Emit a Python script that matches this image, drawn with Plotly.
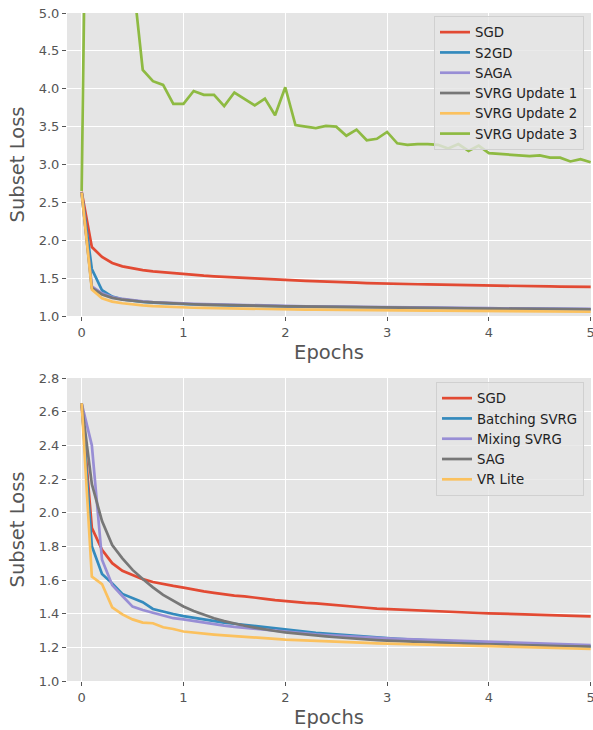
import plotly.graph_objects as go

epochs = [0.0, 0.1, 0.2, 0.3, 0.4, 0.5, 0.6, 0.7, 0.8, 0.9,
          1.0, 1.1, 1.2, 1.3, 1.4, 1.5, 1.6, 1.7, 1.8, 1.9,
          2.0, 2.1, 2.2, 2.3, 2.4, 2.5, 2.6, 2.7, 2.8, 2.9,
          3.0, 3.1, 3.2, 3.3, 3.4, 3.5, 3.6, 3.7, 3.8, 3.9,
          4.0, 4.1, 4.2, 4.3, 4.4, 4.5, 4.6, 4.7, 4.8, 4.9, 5.0]

# ---- top panel ----
sgd = [2.64, 1.91, 1.78, 1.70, 1.655, 1.628, 1.605, 1.588, 1.575, 1.565,
       1.555, 1.542, 1.532, 1.524, 1.514, 1.507, 1.503, 1.497, 1.488, 1.480,
       1.474, 1.469, 1.464, 1.461, 1.455, 1.450, 1.446, 1.440, 1.435, 1.430,
       1.427, 1.424, 1.421, 1.419, 1.417, 1.414, 1.411, 1.408, 1.406, 1.404,
       1.402, 1.400, 1.398, 1.396, 1.394, 1.392, 1.390, 1.388, 1.387, 1.386, 1.384]
s2gd = [2.63, 1.62, 1.34, 1.255, 1.22, 1.20, 1.186, 1.176, 1.168, 1.162,
        1.157, 1.152, 1.148, 1.144, 1.141, 1.138, 1.135, 1.132, 1.130, 1.128,
        1.126, 1.124, 1.122, 1.120, 1.118, 1.117, 1.115, 1.114, 1.112, 1.111,
        1.110, 1.108, 1.107, 1.106, 1.105, 1.104, 1.103, 1.102, 1.101, 1.100,
        1.099, 1.098, 1.097, 1.096, 1.095, 1.094, 1.093, 1.092, 1.091, 1.090, 1.089]
saga = [2.63, 1.39, 1.30, 1.25, 1.225, 1.207, 1.195, 1.185, 1.177, 1.171,
        1.166, 1.161, 1.157, 1.153, 1.149, 1.146, 1.143, 1.140, 1.137, 1.135,
        1.133, 1.131, 1.129, 1.127, 1.125, 1.123, 1.121, 1.119, 1.118, 1.116,
        1.115, 1.113, 1.112, 1.111, 1.109, 1.108, 1.107, 1.106, 1.105, 1.104,
        1.103, 1.102, 1.101, 1.100, 1.099, 1.098, 1.097, 1.096, 1.095, 1.094, 1.093]
svrg1 = [2.63, 1.37, 1.285, 1.24, 1.215, 1.199, 1.188, 1.179, 1.171, 1.165,
         1.160, 1.155, 1.151, 1.147, 1.144, 1.141, 1.138, 1.135, 1.132, 1.130,
         1.128, 1.126, 1.124, 1.122, 1.120, 1.118, 1.116, 1.115, 1.113, 1.112,
         1.110, 1.109, 1.107, 1.106, 1.105, 1.103, 1.102, 1.101, 1.100, 1.099,
         1.098, 1.097, 1.096, 1.095, 1.094, 1.093, 1.092, 1.091, 1.090, 1.089, 1.088]
svrg2 = [2.63, 1.35, 1.235, 1.19, 1.168, 1.152, 1.140, 1.131, 1.124, 1.118,
         1.113, 1.109, 1.106, 1.103, 1.100, 1.098, 1.096, 1.094, 1.092, 1.090,
         1.088, 1.086, 1.085, 1.084, 1.082, 1.081, 1.080, 1.079, 1.078, 1.077,
         1.076, 1.075, 1.074, 1.073, 1.072, 1.071, 1.070, 1.069, 1.068, 1.067,
         1.066, 1.065, 1.064, 1.063, 1.062, 1.061, 1.060, 1.059, 1.058, 1.057, 1.056]
svrg3 = [2.65, 12.9, 10.5, 8.5, 7.0, 5.5, 4.25, 4.10, 4.05, 3.80,
         3.80, 3.97, 3.92, 3.92, 3.77, 3.95, 3.87, 3.78, 3.87, 3.65,
         4.02, 3.52, 3.50, 3.48, 3.51, 3.50, 3.38, 3.46, 3.32, 3.34,
         3.43, 3.28, 3.26, 3.27, 3.27, 3.26, 3.21, 3.27, 3.18, 3.25,
         3.15, 3.14, 3.13, 3.12, 3.11, 3.12, 3.09, 3.09, 3.04, 3.07, 3.03]

# ---- bottom panel ----
batching_svrg = [2.65, 1.80, 1.636, 1.58, 1.517, 1.491, 1.468, 1.428, 1.412, 1.398,
                 1.385, 1.375, 1.365, 1.356, 1.347, 1.340, 1.333, 1.326, 1.319, 1.311,
                 1.303, 1.297, 1.291, 1.286, 1.281, 1.276, 1.271, 1.267, 1.263, 1.259,
                 1.255, 1.251, 1.247, 1.244, 1.241, 1.238, 1.235, 1.232, 1.229, 1.226,
                 1.224, 1.222, 1.220, 1.218, 1.216, 1.214, 1.212, 1.210, 1.208, 1.206, 1.204]
mixing_svrg = [2.65, 2.40, 1.72, 1.57, 1.505, 1.442, 1.422, 1.406, 1.388, 1.373,
               1.366, 1.356, 1.346, 1.337, 1.329, 1.322, 1.316, 1.309, 1.303, 1.297,
               1.291, 1.286, 1.281, 1.277, 1.273, 1.269, 1.265, 1.262, 1.259, 1.256,
               1.253, 1.250, 1.248, 1.246, 1.244, 1.242, 1.240, 1.238, 1.236, 1.234,
               1.232, 1.230, 1.228, 1.226, 1.224, 1.222, 1.220, 1.218, 1.216, 1.215, 1.214]
sag = [2.65, 2.17, 1.95, 1.808, 1.729, 1.660, 1.606, 1.556, 1.512, 1.475,
       1.443, 1.416, 1.393, 1.373, 1.356, 1.341, 1.328, 1.317, 1.306, 1.297,
       1.289, 1.282, 1.276, 1.270, 1.265, 1.260, 1.255, 1.251, 1.247, 1.243,
       1.240, 1.237, 1.234, 1.231, 1.229, 1.227, 1.225, 1.223, 1.221, 1.219,
       1.218, 1.216, 1.215, 1.213, 1.212, 1.211, 1.209, 1.208, 1.207, 1.206, 1.205]
vr_lite = [2.65, 1.62, 1.576, 1.438, 1.396, 1.366, 1.347, 1.343, 1.319, 1.309,
           1.294, 1.287, 1.281, 1.276, 1.271, 1.266, 1.262, 1.258, 1.254, 1.250,
           1.246, 1.243, 1.240, 1.237, 1.235, 1.232, 1.230, 1.228, 1.226, 1.224,
           1.222, 1.220, 1.218, 1.217, 1.215, 1.214, 1.212, 1.211, 1.209, 1.208,
           1.207, 1.205, 1.204, 1.203, 1.201, 1.200, 1.198, 1.196, 1.194, 1.192, 1.190]

top_names = ["SGD", "S2GD", "SAGA", "SVRG Update 1", "SVRG Update 2", "SVRG Update 3"]
top_series = [sgd, s2gd, saga, svrg1, svrg2, svrg3]
bottom_names = ["SGD", "Batching SVRG", "Mixing SVRG", "SAG", "VR Lite"]
bottom_series = [sgd, batching_svrg, mixing_svrg, sag, vr_lite]

colors = ["#E24A33", "#348ABD", "#988ED5", "#777777", "#FBC15E", "#8EBA42"]

FONT = "DejaVu Sans"
GREY_TXT = "#555555"
BG = "#E5E5E5"

fig = go.Figure()
for name, ys, c in zip(top_names, top_series, colors):
    fig.add_trace(go.Scatter(x=epochs, y=ys, mode="lines", name=name,
                             line=dict(color=c, width=2.7),
                             xaxis="x", yaxis="y", legend="legend"))
for name, ys, c in zip(bottom_names, bottom_series, colors):
    fig.add_trace(go.Scatter(x=epochs, y=ys, mode="lines", name=name,
                             line=dict(color=c, width=2.7),
                             xaxis="x2", yaxis="y2", legend="legend2"))

W, H = 593, 730
ml, mr, mt, mb = 67, 2, 13, 49
ph = H - mt - mb
top_dom = [1 - 303 / ph, 1]
bot_dom = [0, 303 / ph]

axis_common = dict(
    showgrid=True, gridcolor="white", gridwidth=1,
    zeroline=False, showline=False,
    ticks="outside", ticklen=4, tickwidth=1, tickcolor=GREY_TXT,
    tickfont=dict(family=FONT, size=13, color=GREY_TXT),
    ticklabeloverflow="allow", automargin=False,
)
title_font = dict(family=FONT, size=19.5, color=GREY_TXT)
legend_font = dict(family=FONT, size=13.3, color="#222222")

xrange = [-0.144, 5.003]
fig.update_layout(
    width=W, height=H,
    margin=dict(l=ml, r=mr, t=mt, b=mb, autoexpand=False),
    paper_bgcolor="white", plot_bgcolor=BG,
    font=dict(family=FONT, color=GREY_TXT),
    xaxis=dict(domain=[0, 1], anchor="y", range=xrange, tickvals=[0, 1, 2, 3, 4, 5],
               title=dict(text="Epochs", font=title_font, standoff=6),
               **axis_common),
    yaxis=dict(domain=top_dom, anchor="x", range=[1.0, 5.0], dtick=0.5, tickformat=".1f",
               title=dict(text="Subset Loss", font=title_font, standoff=8),
               **axis_common),
    xaxis2=dict(domain=[0, 1], anchor="y2", range=xrange, tickvals=[0, 1, 2, 3, 4, 5],
                title=dict(text="Epochs", font=title_font, standoff=6),
                **axis_common),
    yaxis2=dict(domain=bot_dom, anchor="x2", range=[1.0, 2.8], dtick=0.2, tickformat=".1f",
                title=dict(text="Subset Loss", font=title_font, standoff=8),
                **axis_common),
    legend=dict(x=(584 - ml) / (W - ml - mr), xanchor="right",
                y=(H - mb - 16) / ph, yanchor="top",
                bgcolor="rgba(229,229,229,0.8)", bordercolor="#D0D0D0", borderwidth=1,
                font=legend_font),
    legend2=dict(x=(584 - ml) / (W - ml - mr), xanchor="right",
                 y=(H - mb - 382) / ph, yanchor="top",
                 bgcolor="rgba(229,229,229,0.8)", bordercolor="#D0D0D0", borderwidth=1,
                 font=legend_font),
    showlegend=True,
)

fig.write_html("out.html")
